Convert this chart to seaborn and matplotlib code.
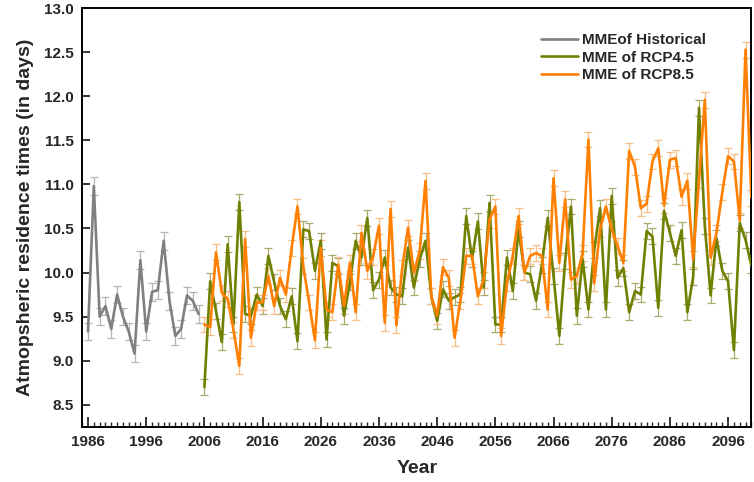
import numpy as np
import pandas as pd
import matplotlib
matplotlib.use("Agg")
import matplotlib.pyplot as plt
from matplotlib.ticker import MultipleLocator, FormatStrFormatter
import seaborn as sns

# MME of historical runs, 1986-2005
hist_years = list(range(1986, 2006))
hist_vals = [9.33, 10.98, 9.50, 9.62, 9.36, 9.75, 9.50, 9.33, 9.08, 10.14,
             9.33, 9.78, 9.80, 10.36, 9.68, 9.28, 9.36, 9.74, 9.68, 9.53]

# scenario runs, 2006-2100
rcp_years = list(range(2006, 2101))
rcp45_vals = [8.70, 9.90, 9.56, 9.21, 10.32, 9.41, 10.80, 9.53, 9.51, 9.75,
              9.62, 10.19, 9.89, 9.62, 9.47, 9.73, 9.22, 10.49, 10.47, 10.02,
              10.36, 9.24, 10.11, 10.07, 9.51, 9.89, 10.36, 10.17, 10.62, 9.80,
              9.92, 10.17, 9.83, 9.75, 9.73, 10.28, 9.83, 10.15, 10.36, 9.73,
              9.45, 9.81, 9.68, 9.72, 9.75, 10.64, 10.15, 10.58, 9.83, 10.79,
              9.41, 9.41, 10.17, 9.79, 10.49, 10.00, 9.98, 9.68, 10.09, 10.62,
              9.96, 9.28, 10.13, 10.75, 9.51, 10.15, 9.58, 10.26, 10.73, 9.58,
              10.87, 9.94, 10.05, 9.55, 9.79, 9.75, 10.47, 10.41, 9.60, 10.70,
              10.45, 10.19, 10.48, 9.55, 9.95, 11.87, 10.53, 9.74, 10.39, 10.02,
              9.90, 9.12, 10.56, 10.37, 10.08]
rcp85_vals = [9.41, 9.38, 10.23, 9.77, 9.70, 9.35, 8.94, 10.38, 9.26, 9.66,
              9.66, 9.96, 9.62, 9.94, 9.75, 10.28, 10.75, 10.07, 9.66, 9.23,
              10.28, 9.58, 9.55, 10.09, 9.62, 10.11, 9.55, 10.45, 10.02, 10.18,
              10.53, 9.43, 10.72, 9.40, 10.05, 10.51, 10.00, 10.24, 11.04, 9.73,
              9.51, 10.06, 9.94, 9.26, 9.68, 10.19, 10.19, 9.73, 9.92, 10.60,
              10.75, 9.28, 9.88, 10.19, 10.64, 10.00, 10.19, 10.22, 10.19, 9.58,
              11.07, 10.11, 10.83, 9.92, 9.96, 10.22, 11.51, 9.88, 10.49, 10.75,
              10.49, 10.30, 10.11, 11.38, 11.20, 10.73, 10.78, 11.26, 11.41, 10.76,
              11.28, 11.30, 10.86, 11.04, 10.15, 11.05, 11.96, 10.17, 10.45, 10.91,
              11.32, 11.26, 10.59, 12.53, 10.85]

# spread shown by the error bars
hist_err = 0.10
rcp45_err = 0.09
rcp85_err = 0.09

labels = ["MMEof Historical", "MME of RCP4.5", "MME of RCP8.5"]
line_cols = {"MMEof Historical": "#808080", "MME of RCP4.5": "#708000", "MME of RCP8.5": "#ff8000"}
err_cols = {"MMEof Historical": "#b4b4b4", "MME of RCP4.5": "#aaaa6c", "MME of RCP8.5": "#f7bf85"}

df = pd.concat([
    pd.DataFrame({"Year": hist_years, "Value": hist_vals, "Run": labels[0], "Err": hist_err}),
    pd.DataFrame({"Year": rcp_years, "Value": rcp45_vals, "Run": labels[1], "Err": rcp45_err}),
    pd.DataFrame({"Year": rcp_years, "Value": rcp85_vals, "Run": labels[2], "Err": rcp85_err}),
], ignore_index=True)

sns.set_style("white")
plt.rcParams["font.family"] = ["Liberation Sans", "DejaVu Sans"]
plt.rcParams["font.weight"] = "bold"

fig, ax = plt.subplots(figsize=(7.54, 4.82), dpi=100)
fig.subplots_adjust(left=0.109, right=0.9965, top=0.983, bottom=0.1147)

for run in labels:
    sub = df[df["Run"] == run]
    ax.errorbar(sub["Year"], sub["Value"], yerr=sub["Err"], fmt="none",
                ecolor=err_cols[run], elinewidth=0.9, capsize=2.6, capthick=0.9, zorder=1)

sns.lineplot(data=df, x="Year", y="Value", hue="Run", hue_order=labels,
             palette=line_cols, linewidth=1.9, estimator=None, sort=False,
             ax=ax, zorder=3)

ax.set_xlim(1985, 2100)
ax.set_ylim(8.25, 13.0)
ax.set_xticks(list(range(1986, 2100, 10)))
ax.xaxis.set_minor_locator(MultipleLocator(1))
ax.set_yticks([8.5 + 0.5 * i for i in range(10)])
ax.yaxis.set_major_formatter(FormatStrFormatter("%.1f"))

ax.tick_params(axis="x", which="major", direction="in", length=7, width=1.3,
               labelsize=11, pad=6, bottom=True, top=False)
ax.tick_params(axis="x", which="minor", direction="in", length=3.5, width=1.0,
               bottom=True, top=False)
ax.tick_params(axis="y", which="major", direction="in", length=6, width=1.3,
               labelsize=11, pad=6, left=True, right=False)
for lab in ax.get_xticklabels() + ax.get_yticklabels():
    lab.set_fontweight("bold")

for sp in ax.spines.values():
    sp.set_color("black")
    sp.set_linewidth(1.4)

ax.set_xlabel("Year", fontsize=14, fontweight="bold", labelpad=8)
ax.set_ylabel("Atmopsheric residence times (in days)", fontsize=14,
              fontweight="bold", labelpad=7)

leg = ax.legend(loc="upper left", bbox_to_anchor=(0.674, 0.958), frameon=False,
                prop={"weight": "bold", "size": 11}, handlelength=2.4,
                handletextpad=0.3, labelspacing=0.22, borderpad=0.0)

fig.savefig("out.png", dpi=100)
